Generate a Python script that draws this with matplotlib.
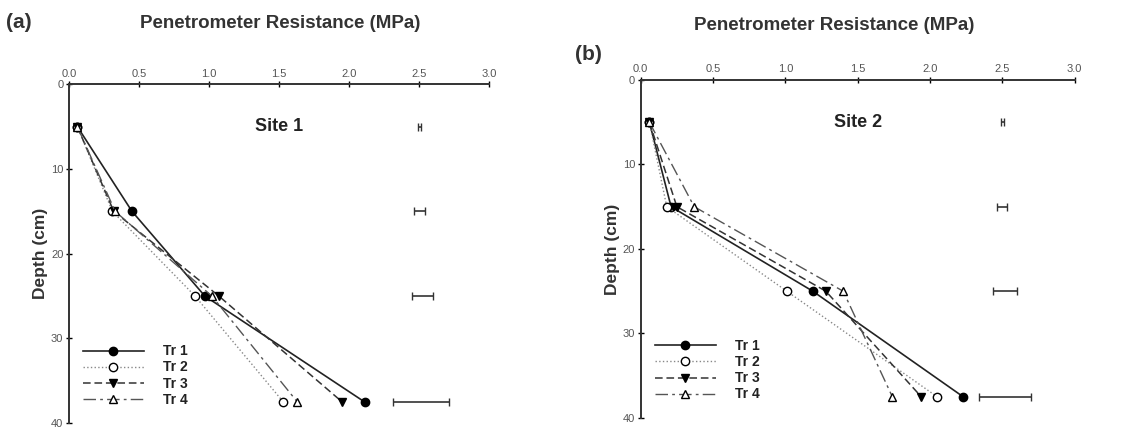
import matplotlib.pyplot as plt

plt.rcParams['font.family'] = ['Liberation Sans', 'DejaVu Sans']

depth = [5, 15, 25, 37.5]

# site 1 penetrometer resistance (MPa)
s1_tr1 = [0.06, 0.45, 0.97, 2.11]
s1_tr2 = [0.06, 0.31, 0.90, 1.53]
s1_tr3 = [0.06, 0.32, 1.07, 1.95]
s1_tr4 = [0.06, 0.33, 1.02, 1.63]
s1_err_x = [2.5, 2.5, 2.52, 2.51]
s1_err = [0.01, 0.04, 0.075, 0.2]

# site 2
s2_tr1 = [0.06, 0.21, 1.19, 2.23]
s2_tr2 = [0.06, 0.18, 1.01, 2.05]
s2_tr3 = [0.06, 0.25, 1.28, 1.94]
s2_tr4 = [0.06, 0.37, 1.40, 1.74]
s2_err_x = [2.5, 2.5, 2.52, 2.52]
s2_err = [0.01, 0.035, 0.085, 0.18]

labels = ["Tr 1", "Tr 2", "Tr 3", "Tr 4"]
styles = [
    dict(ls='-', marker='o', mfc='black', color='#222222', lw=1.2),
    dict(ls=':', marker='o', mfc='white', color='#888888', lw=1.0),
    dict(ls=(0, (5, 2.5)), marker='v', mfc='black', color='#333333', lw=1.1),
    dict(ls=(0, (9, 3, 2, 3)), marker='^', mfc='white', color='#555555', lw=1.0),
]

fig = plt.figure(figsize=(11.3, 4.3), dpi=100)
ax1 = fig.add_axes([0.061, 0.016, 0.372, 0.788])
ax2 = fig.add_axes([0.567, 0.028, 0.384, 0.786])


def draw(ax, series, errx, err, site):
    for vals, lab, st in zip(series, labels, styles):
        ax.plot(vals, depth, label=lab, ms=6, mec='black', mew=1.0, **st)
    ax.errorbar(errx, depth, xerr=err, fmt='none', ecolor='#333333',
                elinewidth=1.2, capsize=3, capthick=1.0)
    ax.set_xlim(0, 3.0)
    ax.set_ylim(40, 0)
    ax.xaxis.tick_top()
    ax.set_xticks([0.0, 0.5, 1.0, 1.5, 2.0, 2.5, 3.0])
    ax.set_xticklabels(['0.0', '0.5', '1.0', '1.5', '2.0', '2.5', '3.0'])
    ax.set_yticks([0, 10, 20, 30, 40])
    ax.tick_params(axis='both', direction='inout', length=4, width=1.0,
                   labelsize=8, labelcolor='#555555', pad=2)
    for s in ['right', 'bottom']:
        ax.spines[s].set_visible(False)
    for s in ['left', 'top']:
        ax.spines[s].set_linewidth(1.4)
        ax.spines[s].set_color('#333333')
    ax.set_ylabel('Depth (cm)', fontsize=12.5, fontweight='bold', color='#333333', labelpad=2)
    ax.text(1.5, 5, site, ha='center', va='center', fontsize=13, fontweight='bold',
            color='#222222')
    leg = ax.legend(loc='lower left', bbox_to_anchor=(0.01, 0.02), frameon=False,
                    fontsize=10, handlelength=4.4, handletextpad=1.4,
                    labelspacing=0.15, borderaxespad=0.3)
    for t in leg.get_texts():
        t.set_fontweight('bold')
        t.set_color('#222222')


draw(ax1, [s1_tr1, s1_tr2, s1_tr3, s1_tr4], s1_err_x, s1_err, "Site 1")
draw(ax2, [s2_tr1, s2_tr2, s2_tr3, s2_tr4], s2_err_x, s2_err, "Site 2")

fig.text(280 / 1130, 1 - 24 / 430, 'Penetrometer Resistance (MPa)', ha='center', va='center',
         fontsize=13.5, fontweight='bold', color='#333333')
fig.text(834 / 1130, 1 - 25 / 430, 'Penetrometer Resistance (MPa)', ha='center', va='center',
         fontsize=13.5, fontweight='bold', color='#333333')
fig.text(6 / 1130, 1 - 23 / 430, '(a)', ha='left', va='center', fontsize=15,
         fontweight='bold', color='#333333')
fig.text(575 / 1130, 1 - 55 / 430, '(b)', ha='left', va='center', fontsize=15,
         fontweight='bold', color='#333333')

fig.savefig('out.png', dpi=100)
